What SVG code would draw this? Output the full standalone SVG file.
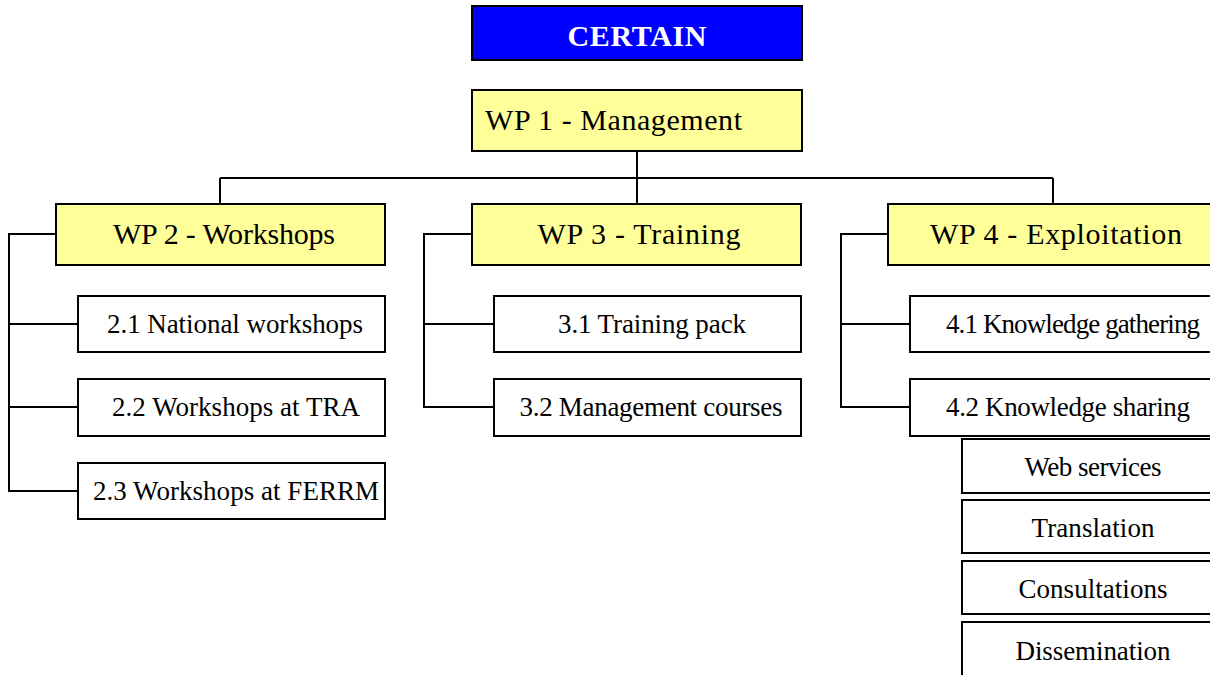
<svg xmlns="http://www.w3.org/2000/svg" width="1210" height="675" viewBox="0 0 1210 675">
<style>
.box{fill:#fff;stroke:#000;stroke-width:2}
.wp{fill:#ffff99;stroke:#000;stroke-width:2}
.title{fill:#0000ff;stroke:#000;stroke-width:2}
.t{font-family:"Liberation Serif",serif;fill:#000;text-anchor:middle}
.wt{font-size:30px}
.st{font-size:27px}
.conn{fill:none;stroke:#000;stroke-width:2}
</style>
<rect width="1210" height="675" fill="#fff"/>
<g id="connectors">
<path class="conn" d="M637 151V178M220 178H1053M220 178V204M637 178V204M1053 178V204"/>
<path class="conn" d="M56 234H9V491H78M9 324H78M9 407H78"/>
<path class="conn" d="M472 234H424V407H494M424 324H494"/>
<path class="conn" d="M888 234H841V407H910M841 324H910"/>
</g>
<g id="certain"><rect class="title" x="472" y="6" width="330" height="54"/><text class="t" x="637" y="46" font-size="30" font-weight="bold" style="fill:#fff" textLength="139">CERTAIN</text></g>
<g id="wp1"><rect class="wp" x="472" y="90" width="330" height="61"/><text class="t wt" x="485" y="130" style="text-anchor:start" textLength="257">WP 1 - Management</text></g>
<g id="wp2"><rect class="wp" x="56" y="204" width="329" height="61"/><text class="t wt" x="224" y="244" textLength="222">WP 2 - Workshops</text></g>
<g id="wp3"><rect class="wp" x="472" y="204" width="329" height="61"/><text class="t wt" x="639" y="244" textLength="203">WP 3 - Training</text></g>
<g id="wp4"><rect class="wp" x="888" y="204" width="340" height="61"/><text class="t wt" x="1056" y="244" textLength="252">WP 4 - Exploitation</text></g>
<g id="n21"><rect class="box" x="78" y="296" width="307" height="56"/><text class="t st" x="235" y="333" textLength="256">2.1 National workshops</text></g>
<g id="n22"><rect class="box" x="78" y="379" width="307" height="57"/><text class="t st" x="236" y="416" textLength="248">2.2 Workshops at TRA</text></g>
<g id="n23"><rect class="box" x="78" y="463" width="307" height="56"/><text class="t st" x="236" y="500" textLength="286">2.3 Workshops at FERRM</text></g>
<g id="n31"><rect class="box" x="494" y="296" width="307" height="56"/><text class="t st" x="652" y="333" textLength="188">3.1 Training pack</text></g>
<g id="n32"><rect class="box" x="494" y="379" width="307" height="57"/><text class="t st" x="651" y="416" textLength="263">3.2 Management courses</text></g>
<g id="n41"><rect class="box" x="910" y="296" width="330" height="56"/><text class="t st" x="1073" y="333" textLength="254">4.1 Knowledge gathering</text></g>
<g id="n42"><rect class="box" x="910" y="379" width="330" height="57"/><text class="t st" x="1068" y="416" textLength="244">4.2 Knowledge sharing</text></g>
<g id="web"><rect class="box" x="962" y="439" width="270" height="54"/><text class="t st" x="1093" y="476" textLength="137">Web services</text></g>
<g id="trans"><rect class="box" x="962" y="500" width="270" height="53"/><text class="t st" x="1093" y="537" textLength="123">Translation</text></g>
<g id="cons"><rect class="box" x="962" y="561" width="270" height="53"/><text class="t st" x="1093" y="598" textLength="149">Consultations</text></g>
<g id="diss"><rect class="box" x="962" y="622" width="270" height="60"/><text class="t st" x="1093" y="660" textLength="155">Dissemination</text></g>
</svg>
